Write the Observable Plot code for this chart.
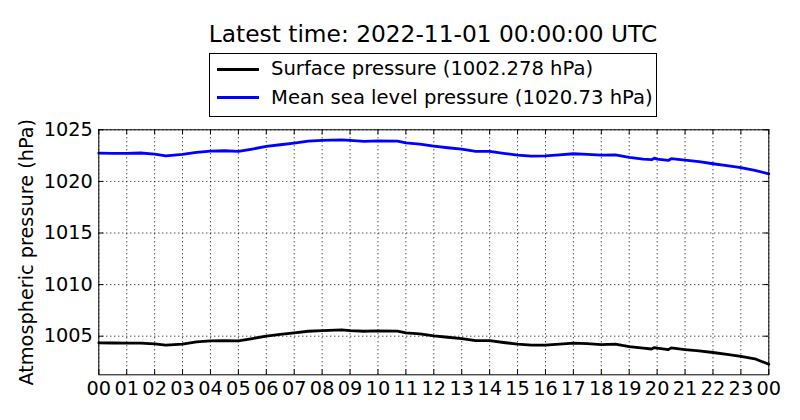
<!DOCTYPE html>
<html>
<head>
<meta charset="utf-8">
<script src="https://cdn.jsdelivr.net/npm/d3@7"></script>
<script src="https://cdn.jsdelivr.net/npm/@observablehq/plot@0.6"></script>
<style>
  html, body { margin: 0; padding: 0; background: #fff; }
  #wrap { position: relative; width: 800px; height: 420px; font-family: "DejaVu Sans", sans-serif; color: #000; }
  #title { position: absolute; left: 0; width: 866px; top: 22.1px; text-align: center; font-size: 23.3px; line-height: 1; white-space: nowrap; }
  #legend { position: absolute; left: 209px; top: 53px; width: 448px; height: 64px; box-sizing: border-box; border: 1px solid #000; background: #fff; }
  .lg-line { position: absolute; left: 7px; width: 42px; height: 3px; }
  .lg-text { position: absolute; left: 61px; font-size: 19.6px; line-height: 1; white-space: nowrap; }
  #chart { position: absolute; left: 0; top: 0; }
</style>
</head>
<body>
<div id="wrap">
  <div id="chart"></div>
  <div id="title"></div>
  <div id="legend"></div>
</div>
<script>
// ---- data ----
const titleText = "Latest time: 2022-11-01 00:00:00 UTC";
const seriesNames = ["Surface pressure (1002.278 hPa)", "Mean sea level pressure (1020.73 hPa)"];
const seriesColors = ["#000000", "#0000ff"];
const yLabel = "Atmospheric pressure (hPa)";

const hours = [0,0.5,1,1.5,2,2.4,3,3.5,4,4.5,5,5.5,6,6.5,7,7.5,8,8.7,9,9.5,10,10.7,11,11.5,12,12.5,13,13.5,14,14.5,15,15.5,16,16.5,17,17.5,18,18.5,19,19.5,19.8,19.9,20,20.4,20.5,21,21.5,22,22.5,23,23.5,24];

const surface = [1004.36,1004.34,1004.32,1004.33,1004.26,1004.13,1004.23,1004.45,1004.55,1004.58,1004.55,1004.77,1005.00,1005.17,1005.32,1005.48,1005.55,1005.61,1005.55,1005.48,1005.52,1005.50,1005.32,1005.23,1005.03,1004.90,1004.77,1004.58,1004.58,1004.39,1004.23,1004.13,1004.13,1004.23,1004.32,1004.29,1004.19,1004.23,1004.00,1003.84,1003.76,1003.90,1003.84,1003.70,1003.87,1003.71,1003.58,1003.42,1003.23,1003.04,1002.81,1002.28];

const mslp = [1022.74,1022.72,1022.71,1022.75,1022.64,1022.48,1022.61,1022.81,1022.94,1022.97,1022.90,1023.13,1023.39,1023.55,1023.71,1023.90,1023.97,1024.03,1023.97,1023.87,1023.93,1023.90,1023.74,1023.61,1023.42,1023.26,1023.13,1022.90,1022.90,1022.71,1022.55,1022.45,1022.48,1022.58,1022.68,1022.61,1022.55,1022.58,1022.32,1022.16,1022.10,1022.25,1022.16,1022.03,1022.20,1022.07,1021.91,1021.71,1021.52,1021.33,1021.07,1020.73];

const xTicks = [0,1,2,3,4,5,6,7,8,9,10,11,12,13,14,15,16,17,18,19,20,21,22,23,24];
const xTickLabels = ["00","01","02","03","04","05","06","07","08","09","10","11","12","13","14","15","16","17","18","19","20","21","22","23","00"];
const yTicks = [1005, 1010, 1015, 1020, 1025];
const xDomain = [0, 24];
const yDomain = [1001.26, 1025];

// ---- layout ----
const W = 800, H = 420;
const mT = 129.3, mB = 45.7, mL = 98.3, mR = 31.7;
const innerW = W - mL - mR, innerH = H - mT - mB;
const tickLen = 5;
const font = "DejaVu Sans, sans-serif";
const fs = 19.3;

const rows = hours.map((h, i) => ({h, surface: surface[i], mslp: mslp[i]}));
const grid = {stroke: "#000", strokeWidth: 1, strokeDasharray: "1,3", strokeOpacity: 1};

const chart = Plot.plot({
  width: W, height: H,
  marginTop: mT, marginBottom: mB, marginLeft: mL, marginRight: mR,
  style: {fontFamily: font, fontSize: fs + "px", color: "#000", background: "transparent", overflow: "visible"},
  x: {domain: xDomain, axis: null, label: null},
  y: {domain: yDomain, axis: null, label: null},
  marks: [
    Plot.ruleX(xTicks, {x: d => d, ...grid}),
    Plot.ruleY(yTicks, {y: d => d, ...grid}),
    Plot.line(rows, {x: "h", y: "surface", stroke: seriesColors[0], strokeWidth: 2.8, strokeLinejoin: "round"}),
    Plot.line(rows, {x: "h", y: "mslp", stroke: seriesColors[1], strokeWidth: 2.8, strokeLinejoin: "round"}),
    // inward ticks on all four sides
    Plot.tickX(xTicks, {x: d => d, stroke: "#000", insetTop: innerH - tickLen}),
    Plot.tickX(xTicks, {x: d => d, stroke: "#000", insetBottom: innerH - tickLen}),
    Plot.tickY(yTicks, {y: d => d, stroke: "#000", insetRight: innerW - tickLen}),
    Plot.tickY(yTicks, {y: d => d, stroke: "#000", insetLeft: innerW - tickLen}),
    Plot.frame({stroke: "#000", strokeWidth: 1}),
    Plot.axisX(xTicks, {anchor: "bottom", tickSize: 0, tickPadding: 6, tickFormat: (d, i) => xTickLabels[i], fill: "#000", fontSize: fs, label: null}),
    Plot.axisY(yTicks, {anchor: "left", tickSize: 0, tickPadding: 6, tickFormat: d => String(d), fill: "#000", fontSize: fs, label: null}),
    Plot.text([yLabel], {frameAnchor: "left", text: d => d, rotate: -90, dx: -65.8, lineAnchor: "bottom", textAnchor: "middle", fill: "#000", fontSize: fs})
  ]
});
document.getElementById("chart").appendChild(chart);

// ---- title ----
document.getElementById("title").textContent = titleText;

// ---- legend ----
const legend = document.getElementById("legend");
const lineTops = [13.5, 42.2];
const textTops = [5.2, 33.8];
seriesNames.forEach((name, i) => {
  const ln = document.createElement("div");
  ln.className = "lg-line";
  ln.style.top = lineTops[i] + "px";
  ln.style.background = seriesColors[i];
  legend.appendChild(ln);
  const tx = document.createElement("div");
  tx.className = "lg-text";
  tx.style.top = textTops[i] + "px";
  tx.textContent = name;
  legend.appendChild(tx);
});
</script>
</body>
</html>
